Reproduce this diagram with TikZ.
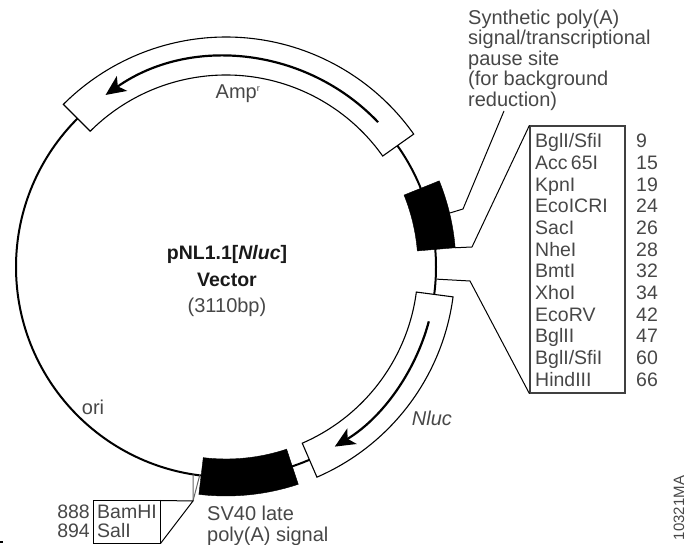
\documentclass[tikz,border=0pt]{standalone}
\usepackage{fontspec}
\setmainfont{Liberation Sans}
\usepackage{tikz}
\usetikzlibrary{arrows.meta}

\tikzset{
  gene/.style={draw=black,line width=1.1pt,fill=white},
  block/.style={draw=black,fill=black},
  leader/.style={draw=black,line width=1pt},
  genearrow/.style={line width=2.2pt,-{Stealth[length=20pt,width=18pt,inset=5pt]}},
  label/.style={text=black!72,font=\fontsize{20}{20.5}\selectfont},
  sitelabel/.style={text=black!72,font=\fontsize{19.5}{21}\selectfont,anchor=base west,inner sep=0pt},
}

\begin{document}
\begin{tikzpicture}[x=1pt,y=1pt]

\useasboundingbox (0,0) rectangle (686,544);

\begin{scope}[shift={(226,277)}]

\coordinate (C) at (0,0);

% backbone
\draw[line width=2pt] (C) circle (210);

% resistance gene and reporter
\draw[gene] (135:192) arc[start angle=135,end angle=35.3,radius=192] -- (35.3:230)
  arc[start angle=35.3,end angle=135,radius=230] -- cycle;
\draw[gene] (-7.5:192) arc[start angle=-7.5,end angle=-66.6,radius=192] -- (-66.6:229)
  arc[start angle=-66.6,end angle=-7.5,radius=229] -- cycle;

\draw[genearrow] (43.6:210) arc[start angle=43.6,end angle=125,radius=210];
\draw[genearrow] (-15:210) arc[start angle=-15,end angle=-58.8,radius=210];

% black blocks
\draw[block] (4.8:192) arc[start angle=4.8,end angle=22,radius=192] -- (22:230)
  arc[start angle=22,end angle=4.8,radius=230] -- cycle;
\draw[block] (-71.6:192) arc[start angle=-71.6,end angle=-96.8,radius=192] -- (-96.8:229)
  arc[start angle=-96.8,end angle=-71.6,radius=229] -- cycle;

\coordinate (polyatop) at (13.5:226);
\coordinate (mcstop) at (4.8:230);
\coordinate (mcsbot) at (-3.3:211);
\coordinate (sallL) at (-99:210);
\coordinate (sallR) at (-97.2:210);

\end{scope}

% polylinker box
\node[draw=black!75,line width=1.2pt,minimum width=95pt,minimum height=267pt,inner sep=0pt]
  (mcs) at (577.5,284.5) {};

\foreach \i/\a/\b in {0/BglI\slash SfiI/9,1/Acc\,65I/15,2/KpnI/19,3/EcoICRI/24,4/SacI/26,5/NheI/28,
    6/BmtI/32,7/XhoI/34,8/EcoRV/42,9/BglII/47,10/BglI\slash SfiI/60,11/HindIII/66}{
  \node[sitelabel] (site\i) at (535,{396-21.64*\i}) {\a};
  \node[sitelabel] (num\i) at (636,{396-21.64*\i}) {\b};
}

% lines to the box
\coordinate (bendA) at (472,297);
\coordinate (bendB) at (470,263);
\draw[leader] (mcstop) -- (bendA) -- (mcs.north west);
\draw[leader] (mcsbot) -- (bendB) -- (mcs.south west);

% poly(A) pause site
\coordinate (polyabend) at (463,335);
\coordinate (polyaend) at (504,433);
\draw[leader] (polyatop) -- (polyabend) -- (polyaend);

\node[label,align=left,anchor=north west,inner sep=0pt] (pause) at (468,534.5)
  {Synthetic poly(A)\\signal/transcriptional\\pause site\\(for background\\reduction)};

% bottom sites
\node[draw=black,line width=1pt,minimum width=67pt,minimum height=42pt,inner sep=0pt]
  (sites) at (126.5,22) {};
\node[sitelabel] (bam) at (97,25) {BamHI};
\node[sitelabel] (sal) at (97,6) {SalI};
\node[sitelabel,anchor=base east] (n888) at (90,25) {888};
\node[sitelabel,anchor=base east] (n894) at (90,6) {894};

\coordinate (sitebend) at (193,43);
\draw[leader,black!60] (sallL) -- (sitebend);
\draw[leader,black!60] (sallR) -- (sitebend);
\draw[leader] (sites.north east) -- (sitebend) -- (sites.south east);

\fill (0,1.5) rectangle (3,3.5);

% names
\node[label] (amp) at (238,450) {Amp\textsuperscript{\fontsize{9}{9}\selectfont r}};
\node[label,font=\fontsize{19.5}{27}\selectfont\bfseries,text=black!90,align=center] (name) at (227,277.5)
  {pNL1.1[\textit{Nluc}]\\Vector};
\node[label] (size) at (227,237) {(3110bp)};
\node[label] (ori) at (93,137) {ori};
\node[label,font=\fontsize{20}{21}\selectfont\itshape] (nluc) at (432,126) {Nluc};
\node[label,align=left,anchor=north west,inner sep=0pt] (sv40) at (207,38) {SV40 late\\poly(A) signal};
\node[label,font=\fontsize{15}{16}\selectfont,rotate=90] (code) at (679,36) {10321MA};

\end{tikzpicture}
\end{document}
